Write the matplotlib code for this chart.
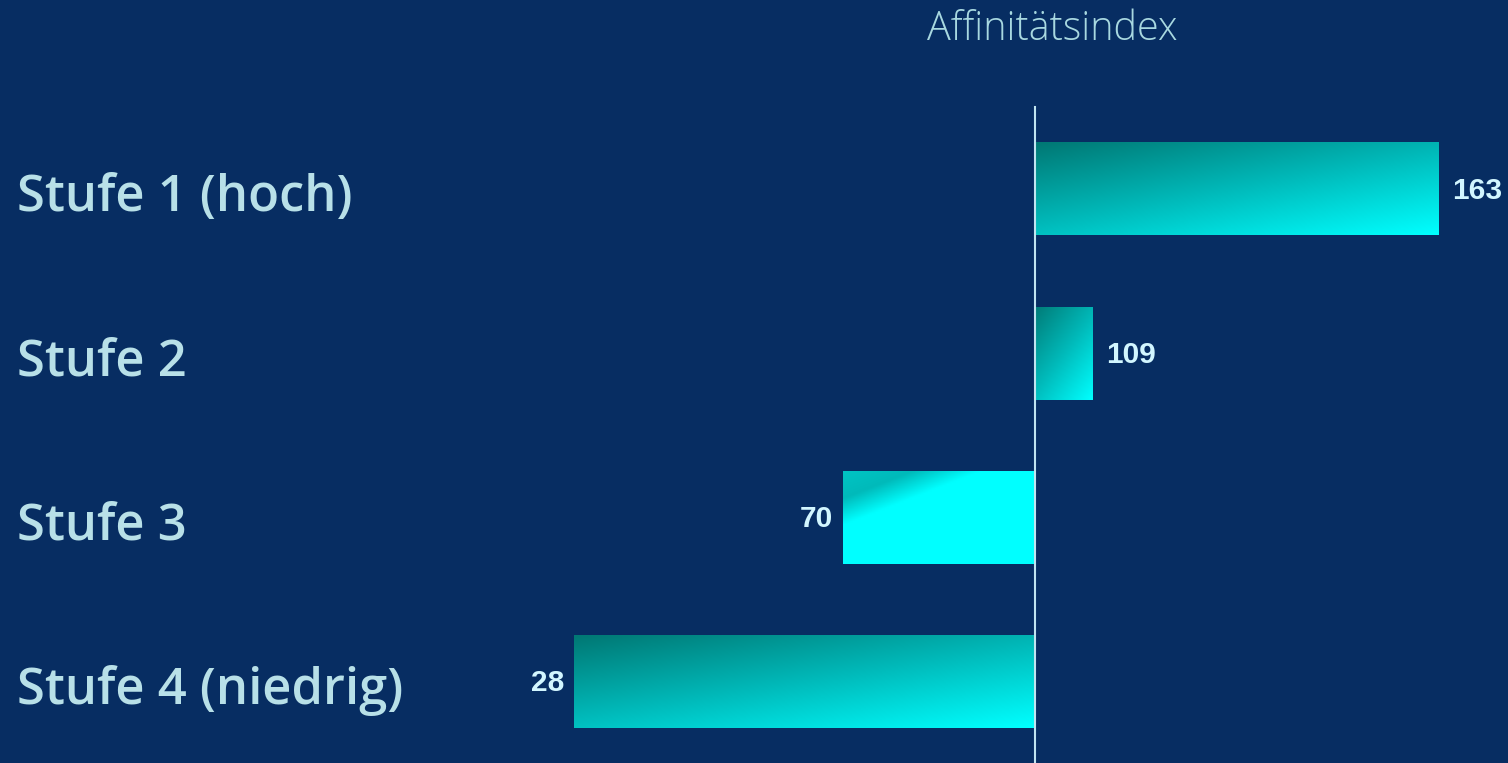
import numpy as np
import matplotlib
matplotlib.use("Agg")
import matplotlib.pyplot as plt
from matplotlib.colors import LinearSegmentedColormap

categories = ["Stufe 1 (hoch)", "Stufe 2", "Stufe 3", "Stufe 4 (niedrig)"]
values = [163, 109, 70, 28]
baseline = 100
title = "Affinitätsindex"

# style per bar: start colour of the gradient and how quickly it saturates
grad_start = ["#007874", "#007C78", "#00C4C4", "#007874"]
grad_reach = [1.0, 1.0, 0.32, 1.0]

BG = "#072D62"
LABEL_C = "#B8E0E8"
VAL_C = "#D2F6FF"

W, H = 1508, 763
fig = plt.figure(figsize=(W / 100, H / 100), dpi=100, facecolor=BG)
ax = fig.add_axes([0, 0, 1, 1], facecolor=BG)

px_per_unit = 6.40
x0_px = 1035
spacing = 164.2
c0 = 189
XL = (baseline - x0_px / px_per_unit, baseline + (W - x0_px) / px_per_unit)
YL = (3 + (H - (c0 + 3 * spacing)) / spacing, -c0 / spacing)
ax.set_xlim(*XL)
ax.set_ylim(*YL)
ax.axis("off")

ypos = np.arange(len(categories))
widths = [v - baseline for v in values]
bars = ax.barh(ypos, widths, left=baseline, height=0.566, color="none", edgecolor="none")

for i, b in enumerate(bars):
    x, y = b.get_x(), b.get_y()
    w, h = b.get_width(), b.get_height()
    l, r = min(x, x + w), max(x, x + w)
    t, btm = y, y + h
    nx, ny = 200, 60
    u = np.linspace(0, 1, nx)[None, :]
    v = np.linspace(0, 1, ny)[:, None]
    tt = np.clip((0.45 * u + 0.55 * v) / grad_reach[i], 0, 1)
    cmap = LinearSegmentedColormap.from_list("g%d" % i, [grad_start[i], "#00BABA", "#00FFFF"])
    ax.imshow(tt, cmap=cmap, vmin=0, vmax=1, extent=(l, r, btm, t),
              origin="upper", aspect="auto", interpolation="bilinear", zorder=2)

ax.set_xlim(*XL)
ax.set_ylim(*YL)

# baseline
ax.plot([baseline, baseline], [-0.5, YL[0]], color="#C0E4F0", lw=1.5, zorder=3)

# value labels
for i, v in enumerate(values):
    if v >= baseline:
        ax.text(v + 14 / px_per_unit, ypos[i] + 0.01, str(v), ha="left", va="center",
                fontsize=21.5, fontweight="bold", color=VAL_C, family="Liberation Sans", zorder=4)
    else:
        ax.text(v - 10 / px_per_unit, ypos[i] + 0.01, str(v), ha="right", va="center",
                fontsize=21.5, fontweight="bold", color=VAL_C, family="Liberation Sans", zorder=4)

# category labels
for i, c in enumerate(categories):
    ax.text(17 / W, ypos[i] + 0.055, c, transform=ax.get_yaxis_transform(), ha="left", va="center",
            fontsize=36.5, color=LABEL_C, family="Open Sans", fontweight="semibold", zorder=4)

fig.text(1052 / W, 1 - 29 / H, title, ha="center", va="center", fontsize=28.5,
         color="#A8D8E0", family="Open Sans", fontweight="light")

fig.savefig("out.png", dpi=100, facecolor=BG)
